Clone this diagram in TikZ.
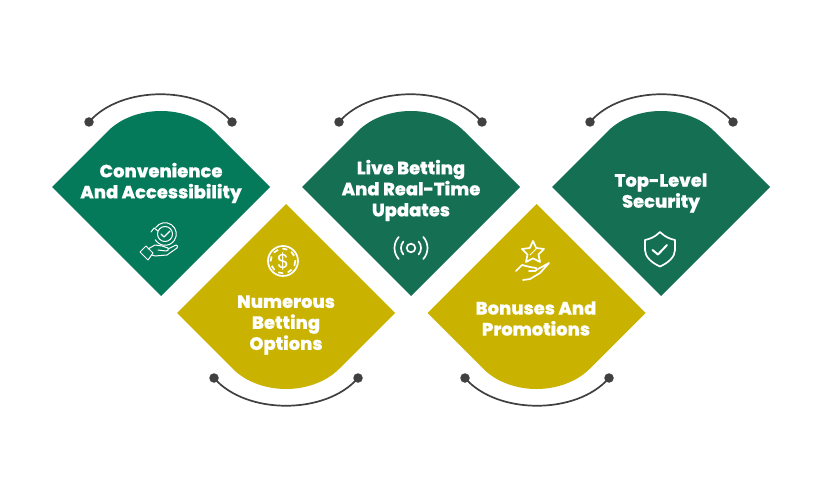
\documentclass[tikz,border=0pt]{standalone}
\usepackage{fontspec}
\setmainfont{Poppins}[BoldFont={* ExtraBold},BoldFeatures={FakeBold=0.4}]
\definecolor{greenA}{HTML}{047A5A}
\definecolor{greenB}{HTML}{156F52}
\definecolor{gold}{HTML}{CAB300}
\definecolor{arcgrey}{HTML}{404040}
\tikzset{
  dot/.style={circle,fill=arcgrey,inner sep=0pt,minimum size=9.5pt},
  arcline/.style={draw=arcgrey,line width=1.7pt},
  label/.style={text=white,font=\bfseries\fontsize{17.9}{21}\selectfont,align=center,inner sep=0pt},
  icon/.style={draw=white,line width=1pt,line join=round,line cap=round,fill=none},
  iconb/.style={draw=white,line width=1.7pt,line join=round,line cap=round,fill=none},
  up/.pic={\fill[pic actions] (-109,0) -- (-53,-56) .. controls (-40,-69) and (-20,-76) .. (0,-76) .. controls (20,-76) and (40,-69) .. (53,-56) -- (109,0) -- (0,109) -- cycle;},
  down/.pic={\fill[pic actions] (-109,0) -- (-53,56) .. controls (-40,69) and (-20,76) .. (0,76) .. controls (20,76) and (40,69) .. (53,56) -- (109,0) -- (0,-109) -- cycle;},
}
\begin{document}
\begin{tikzpicture}[x=1pt,y=-1pt]
\useasboundingbox (0,0) rectangle (822,500);
\pic[fill=greenA] at (161,187) {up};
\pic[fill=greenB] at (411,187) {up};
\pic[fill=greenB] at (661,187) {up};
\pic[fill=gold] at (286,313) {down};
\pic[fill=gold] at (536.5,313) {down};
% arcs
\node[dot] (a1) at (89,122) {};  \node[dot] (b1) at (232,122) {};
\node[dot] (a2) at (339,122) {}; \node[dot] (b2) at (482,122) {};
\node[dot] (a3) at (590,122) {}; \node[dot] (b3) at (733,122) {};
\node[dot] (a4) at (214,378) {}; \node[dot] (b4) at (358,378) {};
\node[dot] (a5) at (465,378) {}; \node[dot] (b5) at (609,378) {};
\draw[arcline] (a1.center) .. controls +(32,-37) and +(-32,-37) .. (b1.center);
\draw[arcline] (a2.center) .. controls +(32,-37) and +(-32,-37) .. (b2.center);
\draw[arcline] (a3.center) .. controls +(32,-37) and +(-32,-37) .. (b3.center);
\draw[arcline] (a4.center) .. controls +(32,37) and +(-32,37) .. (b4.center);
\draw[arcline] (a5.center) .. controls +(32,37) and +(-32,37) .. (b5.center);
% labels
\node[label] (t1) at (161,183) {Convenience\\And Accessibility};
\node[label] (t2) at (411,190.5) {Live Betting\\And Real-Time\\Updates};
\node[label] (t3) at (661,193) {Top-Level\\Security};
\node[label] (t4) at (286,325) {Numerous\\Betting\\Options};
\node[label] (t5) at (536,318.5) {Bonuses And\\Promotions};
% icon 1
\draw[icon] (165,234) circle (7.5);
\draw[icon] (165,234) ++(215:11.3) arc (215:510:11.3);
\draw[icon] (151,232) -- (154,228) -- (158,231);
\draw[icon,line width=1.3pt] (161,234) -- (164,237) -- (170,231);
\draw[icon] (140,252) -- (146,246) -- (153,253) -- (148,260) -- cycle;
\draw[icon] (148,249) -- (155,245) -- (162,246) -- (168,248) .. controls (169,250) and (168,251) .. (166,251) -- (158,250);
\draw[icon] (168,249) -- (176,245) .. controls (178,245) and (178,247) .. (177,248) -- (167,255) -- (155,256) -- (152,255);
% icon 2
\draw[iconb] (283,261) circle (15);
\draw[iconb,line cap=butt,dash pattern=on 5pt off 4.5pt] (283,261) circle (12.3);
\node[text=white,font=\fontsize{20}{20}\selectfont,inner sep=0pt] (dollar) at (283,261) {\$};
% icon 3
\draw[iconb] (411,248) circle (4.3);
\draw[iconb] (411,248) ++(40:10) arc (40:-40:10);
\draw[iconb] (411,248) ++(140:10) arc (140:220:10);
\draw[iconb] (411,248) ++(42:16.5) arc (42:-42:16.5);
\draw[iconb] (411,248) ++(138:16.5) arc (138:222:16.5);
% icon 4
\draw[iconb] (533,241) -- (536.2,248) -- (544,249) -- (538.5,254.5) -- (540,262) -- (533,258.3) -- (526,262) -- (527.5,254.5) -- (522,249) -- (529.8,248) -- cycle;
\draw[icon] (530,255) -- (536,249);
\draw[iconb] (516,271) -- (522,265) -- (530,267) -- (536,268) .. controls (538,269) and (537,271) .. (535,271) -- (529,271);
\draw[iconb] (538,269) -- (549,263) -- (540,273) -- (530,279) -- (523,280);
% icon 5
\draw[iconb] (660,232) .. controls (655,237) and (650,239) .. (645,240) -- (645,250) .. controls (645,257) and (652,263) .. (660,266.5) .. controls (668,263) and (675,257) .. (675,250) -- (675,240) .. controls (670,239) and (665,237) .. (660,232) -- cycle;
\draw[iconb,line width=2pt] (652.5,250) -- (658,254.5) -- (667,245);
\end{tikzpicture}
\end{document}
